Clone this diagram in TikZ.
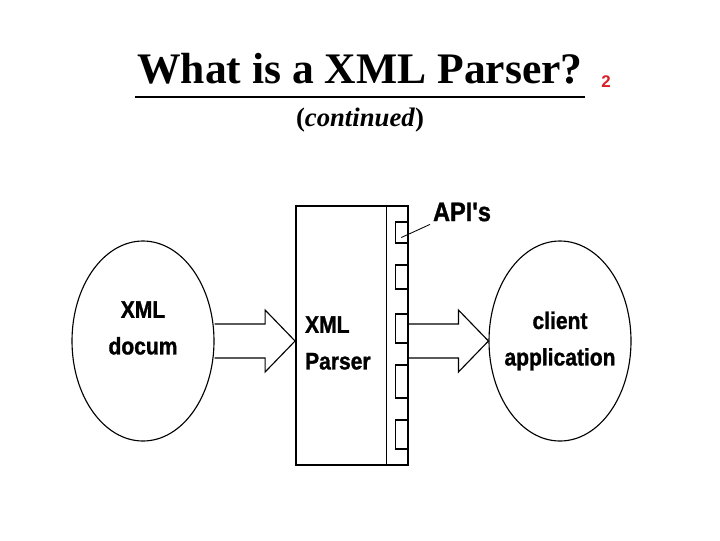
\documentclass[tikz,border=0pt]{standalone}
\usepackage{fontspec}
\setmainfont{Liberation Serif}
\newfontfamily\sketchfont[FakeStretch=0.88,BoldFeatures={FakeBold=1.2}]{Liberation Sans}
\newfontfamily\pagefont{Liberation Sans}
\usepackage{xcolor}
\definecolor{pagered}{RGB}{220,30,40}
\usepackage{tikz}
\usetikzlibrary{shapes.geometric,calc,positioning}
\newcommand{\px}{0.025cm}
\tikzset{
  blob/.style={ellipse,draw,line width=0.8pt,inner sep=0pt,
               minimum width=142*\px,minimum height=200*\px},
  parserbox/.style={rectangle,draw,line width=1.3pt,inner sep=0pt,
               minimum width=112*\px,minimum height=259*\px},
  apibox/.style={rectangle,draw,line width=1pt,inner sep=0pt,anchor=east,
               minimum width=12*\px,minimum height=#1*\px},
  apibox/.default=26,
  hand/.style={font=\sketchfont\bfseries\fontsize{17}{26}\selectfont,
               align=center,inner sep=2pt},
  blockarr/.style={line width=0.8pt,line join=miter},
}
% block arrow from #1 (open back end) to tip #2
\newcommand{\blockarrow}[2]{%
  \draw[blockarr] ($(#1)+(0,-17)$) -- ($(#2)+(-30,-17)$) -- ($(#2)+(-30,-31)$)
    -- (#2) -- ($(#2)+(-30,31)$) -- ($(#2)+(-30,17)$) -- ($(#1)+(0,17)$);}

\begin{document}
\begin{tikzpicture}[x=\px,y=-\px,
    heading/.style={font=\bfseries\fontsize{31}{36}\selectfont,anchor=base,inner sep=0pt},
  ]
  \useasboundingbox (0,0) rectangle (720,540);
  % title
  \node[heading] (title) at (360,83) {What is a XML Parser?};
  \draw[line width=2pt] ($(title.base west)+(-2,14)$) -- ($(title.base east)+(2,14)$);
  \node[font=\pagefont\bfseries\fontsize{12}{14}\selectfont,text=pagered] (num) at (606,82) {2};
  \node[font=\fontsize{19}{22}\selectfont,anchor=base] (cont) at (360,126) {\textbf{(\textit{continued})}};

  % the three parts
  \node[blob] (doc) at (143,341) {};
  \node[hand] (doctxt) at (143,328) {XML\\docum};
  \node[parserbox] (parser) at (352,335.5) {};
  \node[hand,align=left,anchor=west] (ptxt) at (302,343) {XML\\Parser};
  \node[blob] (client) at (560,341) {};
  \node[hand] (ctxt) at (560,341) {client\\application};

  % api column
  \draw[line width=0.6pt] ($(parser.north east)+(-23,0)$) -- ($(parser.south east)+(-23,0)$);
  \node[apibox=21] (api1) at (408,232.5) {};
  \node[apibox=24] (api2) at (408,277) {};
  \node[apibox=29] (api3) at (408,328.5) {};
  \node[apibox=33] (api4) at (408,381.5) {};
  \node[apibox=29] (api5) at (408,434.5) {};
  \node[hand,font=\sketchfont\bfseries\fontsize{19}{22}\selectfont] (apis) at (462,212) {API's};
  \draw[line width=0.6pt] (apis.south west) -- ($(api1.center)+(0,5)$);

  % flow
  \blockarrow{doc.east}{doc.east -| parser.west}
  \blockarrow{client.west -| parser.east}{client.west}
\end{tikzpicture}
\end{document}
